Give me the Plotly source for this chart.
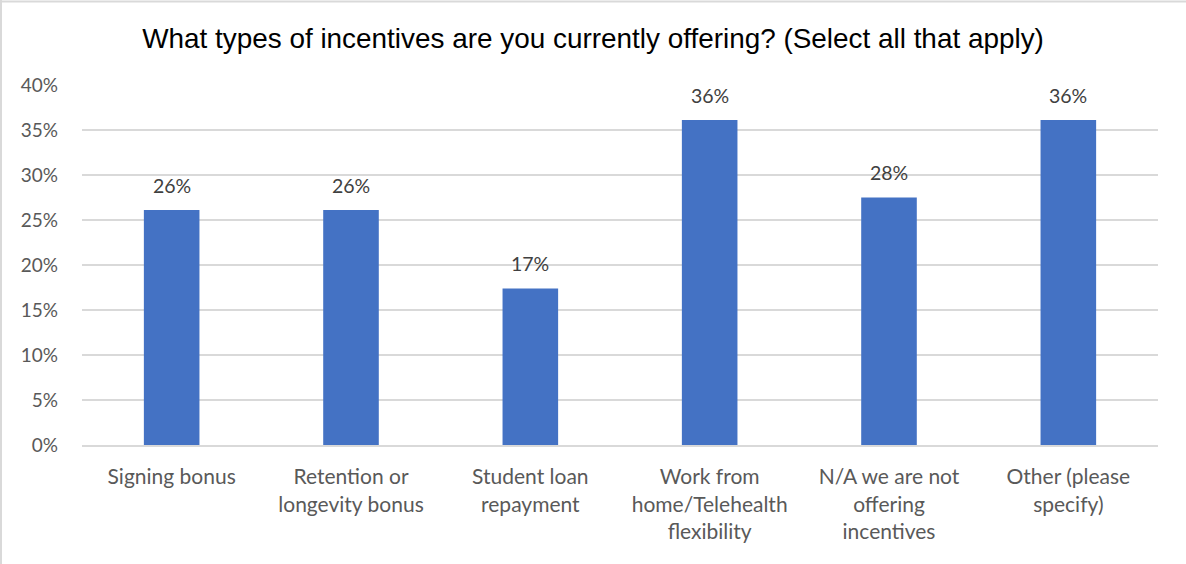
import plotly.graph_objects as go

categories = [
    "Signing bonus",
    "Retention or<br>longevity bonus",
    "Student loan<br>repayment",
    "Work from<br>home/Telehealth<br>flexibility",
    "N/A we are not<br>offering<br>incentives",
    "Other (please<br>specify)",
]
shares = [0.261, 0.261, 0.174, 0.361, 0.275, 0.361]
tick_vals = [0, 0.05, 0.10, 0.15, 0.20, 0.25, 0.30, 0.35, 0.40]

W, H = 1186, 564
L, R, T, B = 82, 28, 85, 119
pw, ph = W - L - R, H - T - B

fig = go.Figure()
fig.add_trace(go.Bar(
    x=categories, y=shares,
    marker=dict(color="#4472c4", line=dict(width=0)),
    hoverinfo="x+y",
))

# value labels sit a little higher above the bars than plotly's outside text
for c, v in zip(categories, shares):
    fig.add_annotation(x=c, y=v, text=f"{v:.0%}", showarrow=False,
                       yanchor="middle", yshift=25,
                       font=dict(family="Lato", size=19.5, color="#404040"))

fig.update_layout(
    width=W, height=H,
    margin=dict(l=L, r=R, t=T, b=B),
    paper_bgcolor="white", plot_bgcolor="white",
    bargap=0.69,
    showlegend=False,
    title=dict(
        text="What types of incentives are you currently offering? (Select all that apply)",
        x=0.5, xanchor="center", y=1 - 38 / H, yanchor="middle",
        font=dict(family="Liberation Sans", size=27.9, color="black"),
    ),
    xaxis=dict(
        showgrid=False, showline=True, linecolor="#d9d9d9", linewidth=2,
        ticks="", tickfont=dict(family="Lato", size=21, color="#595959"),
        ticklabelstandoff=12,
    ),
    yaxis=dict(
        range=[0, 0.40], tickvals=tick_vals, tickformat=".0%",
        showgrid=True, gridcolor="#d9d9d9", gridwidth=2,
        zeroline=False, showline=False, ticks="",
        tickfont=dict(family="Lato", size=19, color="#595959"),
        ticklabelstandoff=23,
    ),
)

# outer chart border (only top and left visible in the crop)
fig.add_shape(type="line", xref="paper", yref="paper",
              x0=(0 - L) / pw, x1=(W + 5 - L) / pw,
              y0=(H - B - 1.5) / ph, y1=(H - B - 1.5) / ph,
              line=dict(color="#d9d9d9", width=2))
fig.add_shape(type="line", xref="paper", yref="paper",
              x0=(1 - L) / pw, x1=(1 - L) / pw,
              y0=(H - B) / ph, y1=(H - B - H - 5) / ph,
              line=dict(color="#d9d9d9", width=2))

# page body has a default 8px margin; drop it so the figure sits at 0,0
fig.write_html("out.html", config={"displayModeBar": False},
               post_script="document.body.style.margin='0';")
